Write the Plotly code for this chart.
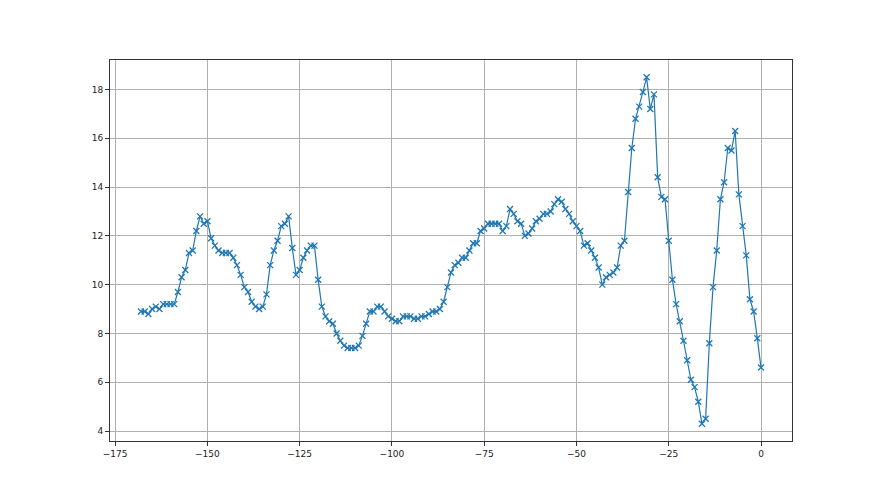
import plotly.graph_objects as go

x_vals = list(range(-168, 1))
y_vals = [
    8.9, 8.9, 8.8, 9.0, 9.1, 9.0, 9.2, 9.2, 9.2, 9.2,
    9.7, 10.3, 10.6, 11.3, 11.4, 12.2, 12.8, 12.5, 12.6, 11.9,
    11.6, 11.4, 11.3, 11.3, 11.3, 11.1, 10.8, 10.4, 9.9, 9.7,
    9.3, 9.1, 9.0, 9.1, 9.6, 10.8, 11.4, 11.8, 12.4, 12.5,
    12.8, 11.5, 10.4, 10.6, 11.1, 11.4, 11.6, 11.6, 10.2, 9.1,
    8.7, 8.5, 8.4, 8.0, 7.7, 7.5, 7.4, 7.4, 7.4, 7.5,
    7.9, 8.4, 8.9, 8.9, 9.1, 9.1, 8.9, 8.7, 8.6, 8.5,
    8.5, 8.7, 8.7, 8.7, 8.6, 8.6, 8.7, 8.7, 8.8, 8.9,
    8.9, 9.0, 9.3, 9.9, 10.5, 10.8, 10.9, 11.1, 11.1, 11.4,
    11.7, 11.7, 12.2, 12.3, 12.5, 12.5, 12.5, 12.5, 12.2, 12.4,
    13.1, 12.9, 12.6, 12.5, 12.0, 12.1, 12.3, 12.6, 12.7, 12.9,
    12.9, 13.0, 13.3, 13.5, 13.4, 13.1, 12.9, 12.6, 12.4, 12.2,
    11.6, 11.7, 11.4, 11.1, 10.7, 10.0, 10.3, 10.4, 10.5, 10.7,
    11.6, 11.8, 13.8, 15.6, 16.8, 17.3, 17.9, 18.5, 17.2, 17.8,
    14.4, 13.6, 13.5, 11.8, 10.2, 9.2, 8.5, 7.7, 6.9, 6.1,
    5.8, 5.2, 4.3, 4.5, 7.6, 9.9, 11.4, 13.5, 14.2, 15.6,
    15.5, 16.3, 13.7, 12.4, 11.2, 9.4, 8.9, 7.8, 6.6,
]
x_ticks = [-175, -150, -125, -100, -75, -50, -25, 0]
y_ticks = [4, 6, 8, 10, 12, 14, 16, 18]

fig = go.Figure()
fig.add_trace(go.Scatter(
    x=x_vals, y=y_vals, mode="lines+markers",
    line=dict(color="#1f77b4", width=1.2),
    marker=dict(symbol="x-thin", size=6, line=dict(color="#1f77b4", width=1.3)),
    showlegend=False,
))

axis_common = dict(
    showline=True, mirror=True, linecolor="#333333", linewidth=1,
    ticks="outside", ticklen=4, tickcolor="#333333", tickwidth=1,
    showgrid=True, gridcolor="#b0b0b0", gridwidth=0.8,
    zeroline=False, tickfont=dict(family="DejaVu Sans", size=9, color="#222222"),
)

# page body has an 8px default margin, so the figure is sized to compensate
fig.update_layout(
    width=872, height=487,
    margin=dict(l=102, r=88, t=52, b=54),
    paper_bgcolor="white", plot_bgcolor="white",
    xaxis=dict(range=[-176.4, 8.4], tickvals=x_ticks, **axis_common),
    yaxis=dict(range=[3.59, 19.21], tickvals=y_ticks, **axis_common),
)

fig.write_html("out.html")
